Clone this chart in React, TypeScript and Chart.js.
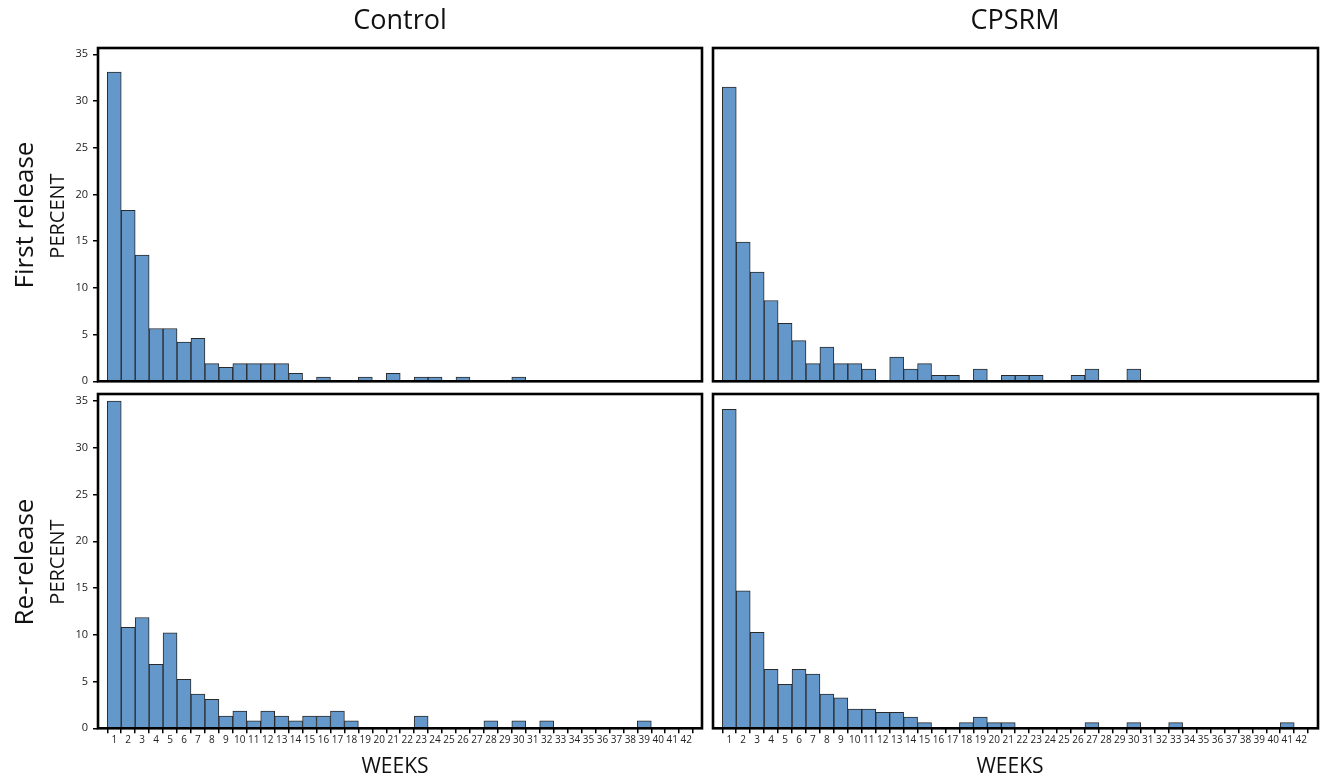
import React, { useEffect, useRef } from "react";
import { Chart, registerables } from "chart.js";
Chart.register(...registerables);

const FONT = "'Open Sans', 'Noto Sans', sans-serif";
const BAR_FILL = "#6498CB";
const BAR_EDGE = "#2a2a2a";

const weeks = [1, 2, 3, 4, 5, 6, 7, 8, 9, 10, 11, 12, 13, 14, 15, 16, 17, 18, 19, 20, 21,
  22, 23, 24, 25, 26, 27, 28, 29, 30, 31, 32, 33, 34, 35, 36, 37, 38, 39, 40, 41, 42];
const yTicks = [0, 5, 10, 15, 20, 25, 30, 35];

const controlFirst = [33.1, 18.3, 13.5, 5.65, 5.65, 4.2, 4.6, 1.9, 1.5, 1.9, 1.9, 1.9, 1.9, 0.85,
  0, 0.45, 0, 0, 0.45, 0, 0.85, 0, 0.45, 0.45, 0, 0.45, 0, 0, 0, 0.45, 0, 0, 0, 0, 0, 0, 0, 0, 0, 0, 0, 0];
const cpsrmFirst = [31.5, 14.9, 11.7, 8.65, 6.2, 4.35, 1.9, 3.65, 1.9, 1.9, 1.3, 0, 2.6, 1.3,
  1.9, 0.65, 0.65, 0, 1.3, 0, 0.65, 0.65, 0.65, 0, 0, 0.65, 1.3, 0, 0, 1.3, 0, 0, 0, 0, 0, 0, 0, 0, 0, 0, 0, 0];
const controlRe = [35.0, 10.8, 11.85, 6.85, 10.2, 5.25, 3.65, 3.1, 1.3, 1.85, 0.8, 1.85, 1.3, 0.8,
  1.3, 1.3, 1.85, 0.8, 0, 0, 0, 0, 1.3, 0.05, 0.05, 0, 0, 0.8, 0, 0.8, 0, 0.8, 0, 0, 0, 0, 0, 0, 0.8, 0, 0, 0];
const cpsrmRe = [34.1, 14.7, 10.25, 6.3, 4.7, 6.3, 5.8, 3.65, 3.25, 2.05, 2.05, 1.7, 1.7, 1.2,
  0.6, 0, 0, 0.6, 1.2, 0.6, 0.6, 0, 0, 0.05, 0.05, 0, 0.6, 0, 0, 0.6, 0, 0, 0.6, 0, 0, 0, 0, 0, 0, 0, 0.6, 0];

const framePlugin = {
  id: "frame",
  afterDatasetsDraw(chart: any) {
    const { ctx, chartArea } = chart;
    ctx.save();
    ctx.strokeStyle = "#000";
    ctx.lineWidth = 2.6;
    ctx.strokeRect(chartArea.left, chartArea.top, chartArea.right - chartArea.left, chartArea.bottom - chartArea.top);
    ctx.restore();
  },
};

type PanelProps = {
  values: number[];
  box: [number, number, number, number]; // canvas x, y, w, h
  area: [number, number, number, number]; // chart area L, T, R, B (page coords)
  showY: boolean;
  showX: boolean;
  yMax: number;
  xMin: number;
  xMax: number;
};

function Panel({ values, box, area, showY, showX, yMax, xMin, xMax }: PanelProps) {
  const ref = useRef<HTMLCanvasElement>(null);
  useEffect(() => {
    const [cx, cy, cw, ch] = box;
    const [L, T, R, B] = area;
    const yW = L - cx;
    const xH = cy + ch - B;
    const chart = new Chart(ref.current!, {
      type: "bar",
      data: {
        datasets: [
          {
            data: weeks.map((w, i) => ({ x: w, y: values[i] })),
            backgroundColor: BAR_FILL,
            borderColor: BAR_EDGE,
            borderWidth: 1,
            barPercentage: 1,
            categoryPercentage: 1,
          } as any,
        ],
      },
      options: {
        animation: false,
        responsive: false,
        events: [],
        layout: { padding: { left: 0, top: T - cy, right: cx + cw - R, bottom: 0 } },
        plugins: { legend: { display: false }, tooltip: { enabled: false }, title: { display: false } },
        scales: {
          x: {
            type: "linear",
            min: xMin,
            max: xMax,
            afterBuildTicks: (s: any) => {
              s.ticks = weeks.map((v) => ({ value: v }));
            },
            ticks: {
              display: showX,
              autoSkip: false,
              maxRotation: 0,
              minRotation: 0,
              padding: 1,
              color: "#222",
              font: { family: FONT, size: 10 },
              callback: (v: any) => String(v),
            },
            grid: { display: showX, drawOnChartArea: false, drawTicks: true, tickLength: 5, color: "#000", lineWidth: 1.5 },
            border: { display: false },
            afterFit: (s: any) => {
              s.height = xH;
            },
          },
          y: {
            type: "linear",
            min: 0,
            max: yMax,
            afterBuildTicks: (s: any) => {
              s.ticks = yTicks.map((v) => ({ value: v }));
            },
            ticks: {
              display: showY,
              padding: 5,
              color: "#222",
              font: { family: FONT, size: 11 },
              callback: (v: any) => String(v),
            },
            grid: { display: showY, drawOnChartArea: false, drawTicks: true, tickLength: 5, color: "#000", lineWidth: 1.5 },
            border: { display: false },
            afterFit: (s: any) => {
              s.width = yW;
            },
          },
        },
      } as any,
      plugins: [framePlugin],
    });
    return () => chart.destroy();
  }, []);
  const [cx, cy, cw, ch] = box;
  return (
    <canvas
      ref={ref}
      width={cw}
      height={ch}
      style={{ position: "absolute", left: cx, top: cy, width: cw, height: ch }}
    />
  );
}

function Label({ text, x, y, size, rotate }: { text: string; x: number; y: number; size: number; rotate?: boolean }) {
  return (
    <div
      style={{
        position: "absolute",
        left: x,
        top: y,
        transform: `translate(-50%, -50%)${rotate ? " rotate(-90deg)" : ""}`,
        fontFamily: FONT,
        fontSize: size,
        lineHeight: 1,
        whiteSpace: "nowrap",
        color: "#111",
      }}
    >
      {text}
    </div>
  );
}

export default function App() {
  return (
    <div style={{ position: "absolute", left: 0, top: 0, width: 1325, height: 782, background: "#fff", overflow: "hidden" }}>
      <Panel values={controlRe} box={[40, 374, 668, 382]} area={[98, 394, 702, 728.3]} showY={true} showX={true} yMax={35.75} xMin={0.35} xMax={42.62} />
      <Panel values={cpsrmRe} box={[708, 374, 614, 382]} area={[713, 394, 1318, 728.3]} showY={false} showX={true} yMax={35.75} xMin={0.35} xMax={42.69} />
      <Panel values={controlFirst} box={[40, 30, 668, 376]} area={[98, 48, 702, 381.3]} showY={true} showX={false} yMax={35.67} xMin={0.35} xMax={42.62} />
      <Panel values={cpsrmFirst} box={[708, 30, 614, 376]} area={[713, 48, 1318, 381.3]} showY={false} showX={false} yMax={35.67} xMin={0.35} xMax={42.69} />
      <Label text="Control" x={400} y={17.7} size={27} />
      <Label text="CPSRM" x={1015} y={17.7} size={27} />
      <Label text="First release" x={23} y={215} size={26} rotate />
      <Label text="Re-release" x={23} y={562} size={26} rotate />
      <Label text="PERCENT" x={57} y={216} size={20} rotate />
      <Label text="PERCENT" x={57} y={562} size={20} rotate />
      <Label text="WEEKS" x={395} y={765.4} size={21} />
      <Label text="WEEKS" x={1010} y={765.4} size={21} />
    </div>
  );
}
